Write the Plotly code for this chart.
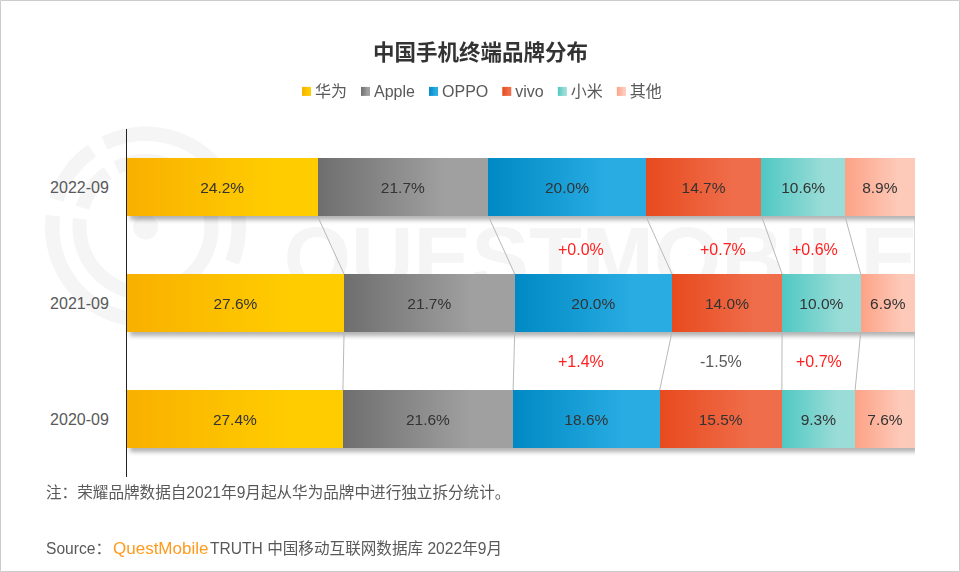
import json
import math
import plotly.graph_objects as go

months = ["2022-09", "2021-09", "2020-09"]
brands = ["华为", "Apple", "OPPO", "vivo", "小米", "其他"]
huawei = [24.2, 27.6, 27.4]
apple = [21.7, 21.7, 21.6]
oppo = [20.0, 20.0, 18.6]
vivo = [14.7, 14.0, 15.5]
xiaomi = [10.6, 10.0, 9.3]
others = [8.9, 6.9, 7.6]
series = [huawei, apple, oppo, vivo, xiaomi, others]

colors_start = ["#F9B000", "#6E6E6E", "#0089C4", "#E84A1E", "#50C8C3", "#FDA286"]
colors_end = ["#FFCC00", "#A0A0A0", "#28ACE2", "#EF6D4A", "#9ADCD7", "#FDC9B8"]

delta_top = ["+0.0%", "+0.7%", "+0.6%"]
delta_bottom = ["+1.4%", "-1.5%", "+0.7%"]

FONT = "Liberation Sans, Noto Sans CJK SC, sans-serif"
GREY = "#595959"
WATERMARK = "#f5f5f5"

# plot area in page pixels
LEFT, RIGHT, TOP, BOTTOM = 127, 915, 129, 477


def px(x):
    return (x - LEFT) / (RIGHT - LEFT)


def py(y):
    return (BOTTOM - y) / (BOTTOM - TOP)


def ring_arc(cx, cy, r_out, r_in, a0, a1):
    # ring segment as a polygon path, angles in degrees
    steps = max(int(abs(a1 - a0) / 3), 2)
    angles = [a0 + (a1 - a0) * i / steps for i in range(steps + 1)]
    pts = [(cx + r_out * math.cos(math.radians(a)), cy - r_out * math.sin(math.radians(a))) for a in angles]
    pts += [(cx + r_in * math.cos(math.radians(a)), cy - r_in * math.sin(math.radians(a))) for a in reversed(angles)]
    return "M" + " L".join(f"{px(x):.5f},{py(y):.5f}" for x, y in pts) + " Z"


y_pos = [2, 1, 0]
fig = go.Figure()

for i, brand in enumerate(brands):
    fig.add_trace(go.Bar(
        x=series[i], y=y_pos, name=brand, orientation="h",
        marker=dict(color=colors_start[i], line=dict(width=0)),
        text=[f"{v:.1f}%" for v in series[i]],
        textposition="inside", insidetextanchor="middle", textangle=0,
        textfont=dict(family=FONT, size=15.5, color="#333333"),
        hoverinfo="skip",
    ))

# connector lines between the rows, at each brand's cumulative share
totals = [sum(s[r] for s in series) for r in range(len(months))]
for i in range(len(brands)):
    xs, ys = [], []
    for r in range(len(months) - 1):
        xs += [sum(s[r] for s in series[:i + 1]) / totals[r] * 100,
               sum(s[r + 1] for s in series[:i + 1]) / totals[r + 1] * 100, None]
        ys += [y_pos[r] - 0.25, y_pos[r + 1] + 0.25, None]
    fig.add_trace(go.Scatter(x=xs, y=ys, mode="lines", showlegend=False, hoverinfo="skip",
                             line=dict(color="#b8b8b8", width=1), cliponaxis=False))

shapes = [dict(type="rect", xref="paper", yref="paper", x0=px(0.5), x1=px(959.5), y0=py(0.5), y1=py(571.5),
               line=dict(color="#cccccc", width=1), layer="below")]

# watermark logo
CX, CY = 145.5, 227
arcs = [(100.5, 86, 116, -22), (100.5, 86, 173, 322), (100.5, 86, 163, 125),
        (73, 59, 116, -187), (73, 59, 163, 125)]
for r_out, r_in, a0, a1 in arcs:
    shapes.append(dict(type="path", xref="paper", yref="paper", path=ring_arc(CX, CY, r_out, r_in, a0, a1),
                       fillcolor=WATERMARK, line=dict(width=0), layer="below"))
shapes.append(dict(type="circle", xref="paper", yref="paper", x0=px(CX - 12.5), x1=px(CX + 12.5),
                   y0=py(CY + 12.5), y1=py(CY - 12.5), fillcolor=WATERMARK, line=dict(width=0), layer="below"))
shapes.append(dict(type="rect", xref="paper", yref="paper", x0=px(287), x1=px(915), y0=py(281), y1=py(217),
                   line=dict(width=0), fillcolor="rgba(0,0,0,0)", layer="below",
                   label=dict(text="QUESTMOBILE", textposition="middle center",
                              font=dict(family="Liberation Sans", size=86.5, color=WATERMARK, weight="bold"))))

annotations = []


def add_text(text, x, y, size=15.6, color=GREY, anchor="center", family=FONT):
    annotations.append(dict(text=text, xref="paper", yref="paper", x=px(x), y=py(y), showarrow=False,
                            xanchor=anchor, yanchor="middle",
                            font=dict(family=family, size=size, color=color)))


for label, x in zip(delta_top, [581, 723, 815]):
    add_text(label, x, 249, 16, "#ff2020" if label.startswith("+") else GREY)
for label, x in zip(delta_bottom, [581, 721, 819]):
    add_text(label, x, 361, 16, "#ff2020" if label.startswith("+") else GREY)

add_text("注：荣耀品牌数据自2021年9月起从华为品牌中进行独立拆分统计。", 44, 492, anchor="left")
add_text("Source：", 44, 548, anchor="left")
add_text("QuestMobile", 111, 548, 17, "#FF9A1E", "left")
add_text("TRUTH 中国移动互联网数据库 2022年9月", 208, 548, anchor="left")

fig.update_layout(
    width=960, height=572,
    margin=dict(l=LEFT, r=960 - RIGHT, t=TOP, b=572 - BOTTOM, autoexpand=False),
    paper_bgcolor="white", plot_bgcolor="rgba(0,0,0,0)",
    barmode="stack", barnorm="percent", bargap=0.5,
    title=dict(text="中国手机终端品牌分布", x=480.5 / 960, xanchor="center", y=1 - 52 / 572, yanchor="middle",
               font=dict(family="Noto Sans CJK SC", size=21.5, color="#333333", weight="bold")),
    legend=dict(orientation="h", x=px(275), xanchor="left", y=py(91), yanchor="middle",
                font=dict(family=FONT, size=16, color=GREY), bgcolor="rgba(0,0,0,0)", traceorder="normal"),
    shapes=shapes, annotations=annotations,
    font=dict(family=FONT),
)
fig.update_xaxes(range=[0, 100], visible=False)
fig.update_yaxes(range=[-0.5, 2.5], tickvals=y_pos, ticktext=months, showline=True, linecolor="#222222", linewidth=1,
                 showgrid=False, zeroline=False, ticks="", ticklabelstandoff=14,
                 tickfont=dict(family=FONT, size=16, color=GREY))

# plotly has no gradient bars or tight legend swatches, so patch the svg once drawn
post_script = """
document.body.style.margin = '0';
var starts = %s, ends = %s;
var gd = document.getElementById('{plot_id}');
var svg = gd.querySelector('.main-svg');
var NS = 'http://www.w3.org/2000/svg';
var defs = document.createElementNS(NS, 'defs');
starts.forEach(function (c, i) {
  var g = document.createElementNS(NS, 'linearGradient');
  g.setAttribute('id', 'brand' + i);
  [[0, c], [0.75, ends[i]], [1, ends[i]]].forEach(function (s) {
    var st = document.createElementNS(NS, 'stop');
    st.setAttribute('offset', s[0]);
    st.setAttribute('stop-color', s[1]);
    g.appendChild(st);
  });
  defs.appendChild(g);
});
svg.insertBefore(defs, svg.firstChild);
gd.querySelectorAll('.barlayer .trace.bars').forEach(function (t, i) {
  t.querySelectorAll('.point path').forEach(function (p) { p.style.fill = 'url(#brand' + i + ')'; });
});
gd.querySelector('.barlayer').style.filter = 'drop-shadow(3px 4px 2px rgba(0,0,0,0.3))';
var x = 0;
gd.querySelectorAll('.legend .traces').forEach(function (t, i) {
  var p = t.querySelector('.legendpoints path');
  for (var el = p; el !== t; el = el.parentNode) { el.removeAttribute('transform'); }
  p.setAttribute('d', 'M4.5,4.5H-4.5V-4.5H4.5z');
  p.setAttribute('transform', 'translate(31.5,0.5)');
  p.style.fill = 'url(#brand' + i + ')';
  p.style.stroke = 'none';
  var w = t.querySelector('.legendtext').getBBox().width;
  var y = t.getAttribute('transform').match(/,\\s*([\\d.-]+)/)[1];
  t.setAttribute('transform', 'translate(' + x + ',' + y + ')');
  x += w + 27;
});
""" % (json.dumps(colors_start), json.dumps(colors_end))

fig.write_html("out.html", post_script=post_script, config={"displayModeBar": False})
